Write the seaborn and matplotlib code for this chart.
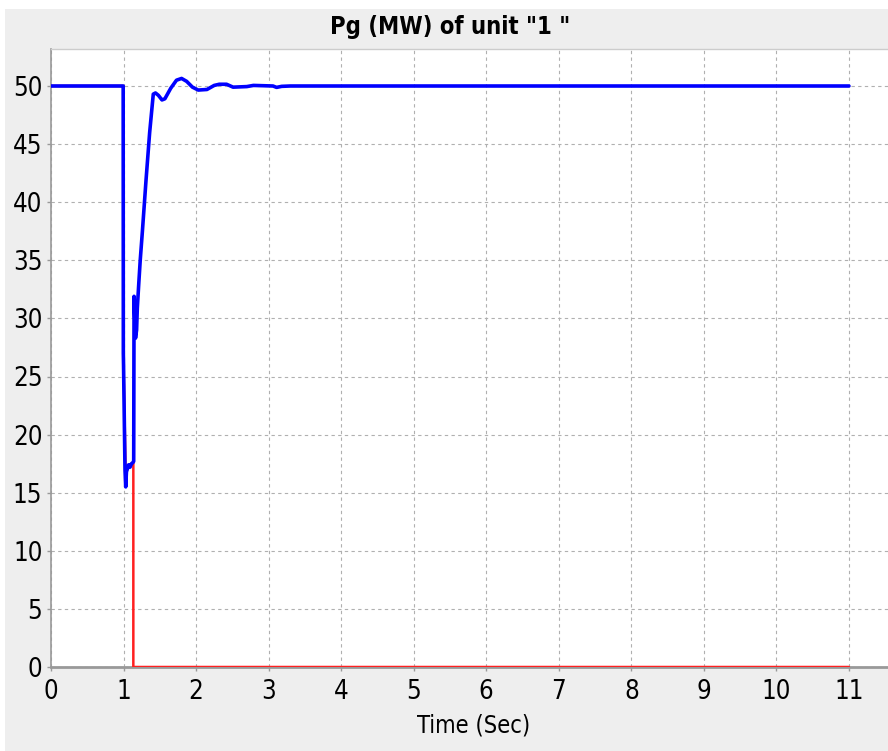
import matplotlib
matplotlib.use("Agg")
import matplotlib.pyplot as plt
import seaborn as sns
import pandas as pd
from matplotlib.patches import Rectangle

# ---- data ----
blue_t = [0.0, 0.995, 0.997, 1.0, 1.02, 1.03, 1.04, 1.05, 1.07, 1.09, 1.11, 1.13, 1.14,
          1.145, 1.155, 1.165, 1.18, 1.19, 1.21, 1.23, 1.26, 1.31, 1.36, 1.41, 1.44,
          1.48, 1.53, 1.57, 1.65, 1.73, 1.80, 1.87, 1.95, 2.03, 2.15, 2.25, 2.32,
          2.42, 2.51, 2.70, 2.79, 3.06, 3.11, 3.18, 3.30, 11.0]
blue_pg = [50.0, 50.0, 27.0, 26.0, 17.0, 15.5, 16.8, 17.0, 17.4, 17.2, 17.5, 17.6, 17.7,
           31.9, 30.0, 28.3, 29.0, 30.9, 33.0, 35.0, 37.5, 41.9, 46.0, 49.3, 49.4,
           49.2, 48.8, 48.9, 49.8, 50.5, 50.65, 50.4, 49.9, 49.65, 49.7, 50.05, 50.15,
           50.15, 49.9, 49.95, 50.05, 50.0, 49.88, 49.97, 50.0, 50.0]
red_t = [0.0, 1.0, 1.0, 1.03, 1.05, 1.135, 1.135, 11.0]
red_pg = [50.0, 50.0, 26.0, 16.5, 17.0, 17.6, 0.0, 0.0]

x_ticks = list(range(0, 12))
y_ticks = list(range(0, 55, 5))
title = 'Pg (MW) of unit "1 "'
xlabel = "Time (Sec)"

df = pd.concat([
    pd.DataFrame({"t": red_t, "pg": red_pg, "series": "red"}),
    pd.DataFrame({"t": blue_t, "pg": blue_pg, "series": "blue"}),
], ignore_index=True)

sns.set_theme(style="white")
plt.rcParams["font.family"] = ["DejaVu Sans"]
plt.rcParams["font.stretch"] = "condensed"

W, H = 888, 751
fig = plt.figure(figsize=(W / 100, H / 100), dpi=100, facecolor="white")
fig.patches.append(Rectangle((5 / W, 0), 1, 1 - 9 / H, transform=fig.transFigure,
                             facecolor="#eeeeee", edgecolor="none", zorder=-10))
ax = fig.add_axes([51 / W, 1 - 667 / H, 1 - 51 / W + 0.01, (667 - 49) / H])
ax.set_facecolor("white")

sns.lineplot(data=df[df.series == "red"], x="t", y="pg", sort=False, estimator=None,
             color="#ff2020", linewidth=1.8, ax=ax, zorder=3)
sns.lineplot(data=df[df.series == "blue"], x="t", y="pg", sort=False, estimator=None,
             color="#0000ff", linewidth=2.6, ax=ax, zorder=4)

ax.set_xlim(0, (W + 9 - 51) / 72.55)
ax.set_ylim(0, (667 - 49) / 11.62)
ax.set_xticks(x_ticks)
ax.set_yticks(y_ticks)
ax.grid(True, color="#b0b0b0", linestyle=(0, (3, 3)), linewidth=0.8)
ax.set_axisbelow(True)

ax.spines["right"].set_visible(False)
ax.spines["top"].set_color("#cccccc")
ax.spines["top"].set_linewidth(1.0)
ax.spines["left"].set_color("#999999")
ax.spines["left"].set_linewidth(1.2)
ax.spines["bottom"].set_color("#999999")
ax.spines["bottom"].set_linewidth(2.0)

ax.tick_params(axis="both", direction="out", length=3, width=1, color="#999999",
               labelsize=18.5, labelcolor="black", bottom=True, left=True)
ax.tick_params(axis="x", pad=5.5)
ax.tick_params(axis="y", pad=3.2)
for lab in ax.get_xticklabels() + ax.get_yticklabels():
    lab.set_fontstretch("condensed")
ax.set_xlabel(xlabel, fontsize=17, labelpad=6, color="black", fontstretch="condensed")
ax.set_ylabel("")
fig.text((51 + 849) / 2 / W, 1 - 27 / H, title, ha="center", va="center",
         fontsize=17, fontweight="bold", color="black", fontstretch="condensed")

fig.savefig("out.png", dpi=100, facecolor=fig.get_facecolor())
